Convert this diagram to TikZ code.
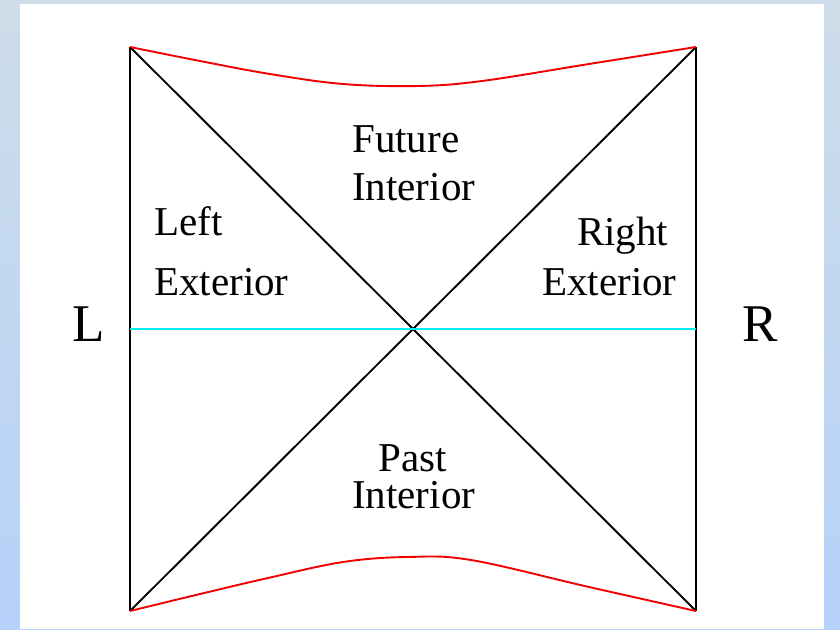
\documentclass[tikz,border=0pt]{standalone}
\usepackage{fontspec}
\setmainfont{Liberation Serif}
\definecolor{slicecyan}{RGB}{0,240,240}
\definecolor{singred}{RGB}{240,0,0}
\begin{document}
\begin{tikzpicture}[x=1pt,y=-1pt,
  lbl/.style={inner sep=0pt,anchor=base west,font=\fontsize{41}{44}\selectfont},
  side/.style={inner sep=0pt,anchor=base west,font=\fontsize{53}{56}\selectfont},
  edge/.style={draw=black,line width=1.9pt},
  sing/.style={draw=singred,line width=1.9pt},
  slice/.style={draw=slicecyan,line width=2pt}]
\useasboundingbox (0,0) rectangle (840,629);
\shade[top color={rgb,255:red,205;green,220;blue,232},bottom color={rgb,255:red,182;green,210;blue,250}] (0,0) rectangle (840,629);
\fill[white] (20,4) rectangle (824,629);
% corners
\coordinate (tl) at (130,47);
\coordinate (tr) at (696,47);
\coordinate (bl) at (130,611);
\coordinate (br) at (696,611);
\coordinate (c) at (413,329);
\coordinate (ml) at (130,329);
\coordinate (mr) at (696,329);
% frame and horizons
\draw[edge] (tl) -- (bl);
\draw[edge] (tr) -- (br);
\draw[edge] (tl) -- (br);
\draw[edge] (tr) -- (bl);
% singularities
\draw[sing] plot[smooth,tension=0.6] coordinates {(130,47) (200,61) (270,74) (343,84) (418,86) (482,81) (589,64) (696,47)};
\draw[sing] plot[smooth,tension=0.6] coordinates {(130,611) (200,594) (268,578) (343,562) (407,557) (471,560) (589,587) (696,611)};
% slice
\draw[slice] (ml) -- (mr);
% labels
\node[lbl] (fut) at (352,152) {Future};
\node[lbl] (fint) at (352,200) {Interior};
\node[lbl] (left) at (154,235) {Left};
\node[lbl] (lext) at (154,295) {Exterior};
\node[lbl] (right) at (577,245) {Right};
\node[lbl] (rext) at (542,295) {Exterior};
\node[lbl] (past) at (378,471) {Past};
\node[lbl] (pint) at (352,508) {Interior};
\node[side] (L) at (72,341) {L};
\node[side] (R) at (742,341) {R};
\end{tikzpicture}
\end{document}
